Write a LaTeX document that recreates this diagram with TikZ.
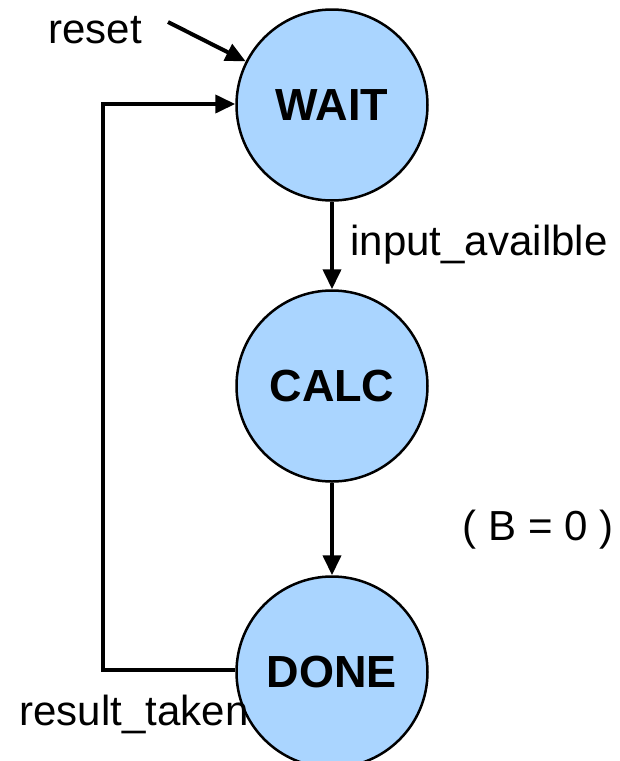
\documentclass[tikz,border=0pt]{standalone}
\usepackage{fontspec}
\setmainfont{Liberation Sans}
\usetikzlibrary{arrows.meta}
\definecolor{statefill}{RGB}{170,213,255}
\begin{document}
\begin{tikzpicture}[x=1pt,y=-1pt,
  state/.style={circle,draw=black,line width=2.5pt,fill=statefill,minimum size=191pt,inner sep=0pt,font=\fontsize{45}{50}\selectfont\bfseries},
  lbl/.style={inner sep=0pt,font=\fontsize{42}{48}\selectfont},
  conn/.style={line width=4pt,-{Triangle[length=20pt,width=18pt]}}]
\useasboundingbox (0,0) rectangle (620,761);
\node[state] (WAIT) at (332,105) {WAIT};
\node[state] (CALC) at (332,386) {CALC};
\node[state] (DONE) at (332,672) {DONE};
\node[lbl] (reset) at (95,30) {reset};
\node[lbl] (inp) at (479,245) {input\_availble};
\node[lbl] (cond) at (538,530) {( B = 0 )};
\node[lbl] (res) at (134,714) {result\_taken};
\coordinate (rs) at (168,22);
\coordinate (bl) at (103,670);
\coordinate (tl) at (103,104);
\draw[conn] (rs) -- (WAIT);
\draw[conn] (WAIT) -- (CALC);
\draw[conn] (CALC) -- (DONE);
\draw[conn,line join=miter] (DONE.west |- bl) -- (bl) -- (tl) -- (tl -| WAIT.west);
\end{tikzpicture}
\end{document}
